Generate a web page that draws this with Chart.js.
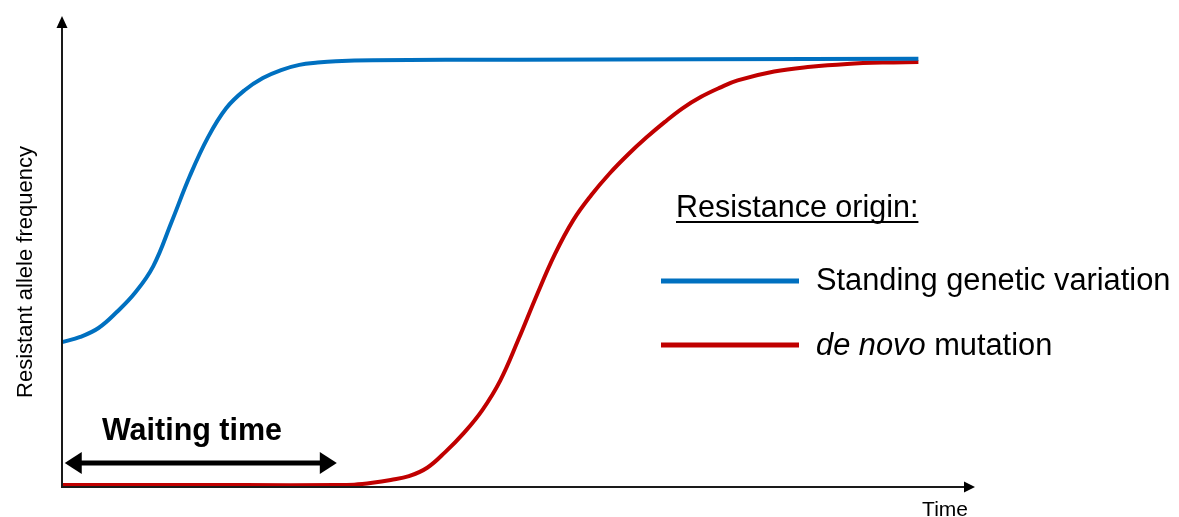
<!DOCTYPE html>
<html>
<head>
<meta charset="utf-8">
<script src="https://cdn.jsdelivr.net/npm/chart.js@4/dist/chart.umd.min.js"></script>
<style>
html,body{margin:0;padding:0;background:#fff;}
#wrap{position:relative;width:1179px;height:517px;}
</style>
</head>
<body>
<div id="wrap"><canvas id="c" width="1179" height="517"></canvas></div>
<script>
// Time (0-100) and resistant allele frequency (0-1)
const standingTime = [0, 2, 4, 6, 8, 10, 12, 14, 16, 18, 20, 22, 24, 26, 28, 30, 34, 50, 70, 93.8];
const standingFreq = [0.309, 0.320, 0.339, 0.373, 0.414, 0.471, 0.565, 0.663, 0.746, 0.808, 0.846, 0.872, 0.889, 0.900, 0.905, 0.908, 0.910, 0.911, 0.912, 0.913];
const denovoTime = [0, 10, 20, 30, 32, 34, 36, 38, 40, 42, 44, 46, 48, 50, 52, 54, 56, 58, 60, 62, 64, 66, 68, 70, 72, 74, 78, 82, 86, 90, 93.8];
const denovoFreq = [0.004, 0.004, 0.004, 0.004, 0.005, 0.009, 0.015, 0.023, 0.041, 0.075, 0.115, 0.163, 0.227, 0.315, 0.409, 0.497, 0.569, 0.623, 0.669, 0.709, 0.745, 0.778, 0.808, 0.832, 0.851, 0.867, 0.886, 0.896, 0.902, 0.905, 0.906];
const seriesNames = ["Standing genetic variation", "mutation"];
const legendTitle = "Resistance origin:";
const xTitle = "Time";
const yTitle = "Resistant allele frequency";
const waitLabel = "Waiting time";
const waitStart = 0.3, waitEnd = 30.1; // time span of the waiting-time arrow
const waitLevel = 0.051;             // frequency level of the arrow

const BLUE = "#0070C0", RED = "#C00000";
const FONT = "'Liberation Sans', Arial, sans-serif";

function toXY(xs, ys){ return xs.map((x,i)=>({x:x, y:ys[i]})); }

const decor = {
  id: 'decor',
  afterDraw(chart){
    const ctx = chart.ctx, a = chart.chartArea;
    const xs = chart.scales.x, ys = chart.scales.y;
    ctx.save();
    // axes
    ctx.strokeStyle = "#1a1a1a"; ctx.fillStyle = "#000"; ctx.lineWidth = 2;
    ctx.beginPath(); ctx.moveTo(a.left, a.bottom); ctx.lineTo(a.left, a.top + 8); ctx.stroke();
    ctx.beginPath(); ctx.moveTo(a.left - 1, a.bottom); ctx.lineTo(a.right - 8, a.bottom); ctx.stroke();
    // y arrowhead
    ctx.beginPath(); ctx.moveTo(a.left, a.top - 2); ctx.lineTo(a.left - 5.5, a.top + 10); ctx.lineTo(a.left + 5.5, a.top + 10); ctx.closePath(); ctx.fill();
    // x arrowhead
    ctx.beginPath(); ctx.moveTo(a.right, a.bottom); ctx.lineTo(a.right - 11, a.bottom - 5.5); ctx.lineTo(a.right - 11, a.bottom + 5.5); ctx.closePath(); ctx.fill();

    // axis titles
    ctx.fillStyle = "#000";
    ctx.font = "21px " + FONT; ctx.textAlign = "right"; ctx.textBaseline = "alphabetic";
    ctx.fillText(xTitle, 968, 516);
    ctx.save();
    ctx.translate(32, 272); ctx.rotate(-Math.PI/2);
    ctx.font = "22px " + FONT; ctx.textAlign = "center"; ctx.textBaseline = "alphabetic";
    ctx.fillText(yTitle, 0, 0);
    ctx.restore();

    // waiting time arrow
    const wx1 = xs.getPixelForValue(waitStart), wx2 = xs.getPixelForValue(waitEnd);
    const wy = ys.getPixelForValue(waitLevel);
    ctx.strokeStyle = "#000"; ctx.lineWidth = 5;
    ctx.beginPath(); ctx.moveTo(wx1 + 10, wy); ctx.lineTo(wx2 - 10, wy); ctx.stroke();
    ctx.beginPath(); ctx.moveTo(wx1, wy); ctx.lineTo(wx1 + 17, wy - 11); ctx.lineTo(wx1 + 17, wy + 11); ctx.closePath(); ctx.fill();
    ctx.beginPath(); ctx.moveTo(wx2, wy); ctx.lineTo(wx2 - 17, wy - 11); ctx.lineTo(wx2 - 17, wy + 11); ctx.closePath(); ctx.fill();
    ctx.font = "bold 30.5px " + FONT; ctx.textAlign = "center"; ctx.textBaseline = "alphabetic";
    ctx.fillText(waitLabel, 192, 440);

    // legend
    ctx.font = "30.5px " + FONT; ctx.textAlign = "left";
    ctx.fillText(legendTitle, 676, 217);
    const tw = ctx.measureText(legendTitle).width;
    ctx.lineWidth = 2; ctx.strokeStyle = "#000";
    ctx.beginPath(); ctx.moveTo(676, 222); ctx.lineTo(676 + tw, 222); ctx.stroke();

    ctx.lineWidth = 5;
    ctx.strokeStyle = BLUE;
    ctx.beginPath(); ctx.moveTo(661, 281); ctx.lineTo(799, 281); ctx.stroke();
    ctx.strokeStyle = RED;
    ctx.beginPath(); ctx.moveTo(661, 345); ctx.lineTo(799, 345); ctx.stroke();

    ctx.fillStyle = "#000";
    ctx.font = "30.8px " + FONT;
    ctx.fillText(seriesNames[0], 816, 290);
    ctx.font = "italic 30.8px " + FONT;
    const it = "de novo";
    ctx.fillText(it, 816, 355);
    const iw = ctx.measureText(it + " ").width;
    ctx.font = "30.8px " + FONT;
    ctx.fillText(seriesNames[1], 816 + iw, 355);
    ctx.restore();
  }
};

new Chart(document.getElementById('c'), {
  type: 'line',
  data: {
    datasets: [
      { label: seriesNames[0], data: toXY(standingTime, standingFreq), borderColor: BLUE, borderWidth: 4, pointRadius: 0, tension: 0.4, fill: false },
      { label: "de novo " + seriesNames[1], data: toXY(denovoTime, denovoFreq), borderColor: RED, borderWidth: 4, pointRadius: 0, tension: 0.4, fill: false }
    ]
  },
  options: {
    responsive: false,
    animation: false,
    layout: { padding: { left: 62, right: 204, top: 18, bottom: 30 } },
    scales: {
      x: { type: 'linear', min: 0, max: 100, display: false },
      y: { type: 'linear', min: 0, max: 1, display: false }
    },
    plugins: { legend: { display: false }, tooltip: { enabled: false } },
    clip: false
  },
  plugins: [decor]
});
</script>
</body>
</html>
